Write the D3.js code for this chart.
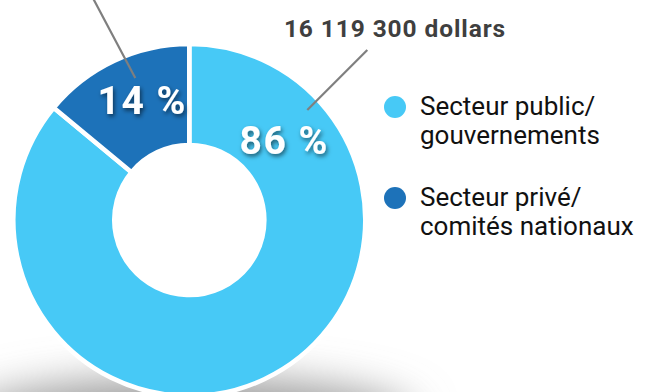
<!DOCTYPE html>
<html>
<head>
<meta charset="utf-8">
<script src="https://cdn.jsdelivr.net/npm/d3@7"></script>
<style>
  html, body { margin: 0; padding: 0; background: #fff; }
  svg { display: block; }
</style>
</head>
<body>
<script>
// Funding sources, in percent of the total
const categories = ["Secteur public/\ngouvernements", "Secteur privé/\ncomités nationaux"];
const shares = [86, 14];
const shareLabels = ["86 %", "14 %"];
const amountLabel = "16 119 300 dollars";
const colors = ["#47C9F6", "#1D72B9"];

const W = 651, H = 392;
const cx = 189.3, cy = 220;
const outerR = 176, innerR = 75;

const svg = d3.select("body").append("svg")
  .attr("width", W).attr("height", H);

const defs = svg.append("defs");
const blur = defs.append("filter").attr("id", "floor")
  .attr("x", "-50%").attr("y", "-200%").attr("width", "200%").attr("height", "500%");
blur.append("feGaussianBlur").attr("stdDeviation", 22);

const txtShadow = defs.append("filter").attr("id", "txtShadow")
  .attr("x", "-20%").attr("y", "-30%").attr("width", "140%").attr("height", "170%");
txtShadow.append("feDropShadow")
  .attr("dx", 1.5).attr("dy", 2.5).attr("stdDeviation", 2)
  .attr("flood-color", "#000").attr("flood-opacity", 0.55);

// soft floor shadow under the ring
svg.append("ellipse")
  .attr("cx", cx).attr("cy", 420)
  .attr("rx", 225).attr("ry", 40)
  .attr("fill", "#959595")
  .attr("filter", "url(#floor)");

const pie = d3.pie().sort(null).value(d => d);
const arcs = pie(shares);
const arc = d3.arc().innerRadius(innerR).outerRadius(outerR);

const g = svg.append("g").attr("transform", `translate(${cx},${cy})`);

g.selectAll("path.slice")
  .data(arcs)
  .join("path")
  .attr("class", "slice")
  .attr("d", arc)
  .attr("fill", (d, i) => colors[i])
  .attr("stroke", "#fff")
  .attr("stroke-width", 4.6)
  .attr("stroke-linejoin", "miter");

// label anchors, polar (degrees clockwise from 12 o'clock, radius)
const labelPolar = [[49.9, 124], [-21.4, 129]];
const polar = (a, r) => [r * Math.sin(a * Math.PI / 180), -r * Math.cos(a * Math.PI / 180)];

// leader lines (start on the ring, end outside)
const leaders = [
  [[118, -110], [178, -170]],
  [[-54, -142], [-98, -225]]
];
g.selectAll("line.leader")
  .data(leaders)
  .join("line")
  .attr("class", "leader")
  .attr("x1", d => d[0][0]).attr("y1", d => d[0][1])
  .attr("x2", d => d[1][0]).attr("y2", d => d[1][1])
  .attr("stroke", "#7f7f7f")
  .attr("stroke-width", 2.2);

g.selectAll("text.pct")
  .data(arcs)
  .join("text")
  .attr("class", "pct")
  .attr("x", (d, i) => polar(...labelPolar[i])[0])
  .attr("y", (d, i) => polar(...labelPolar[i])[1])
  .attr("dy", "0.36em")
  .attr("text-anchor", "middle")
  .attr("font-family", "Roboto, sans-serif")
  .attr("font-weight", 700)
  .attr("font-size", 39)
  .attr("letter-spacing", 1.5)
  .attr("fill", "#fff")
  .attr("filter", "url(#txtShadow)")
  .text((d, i) => shareLabels[i]);

svg.append("text")
  .attr("x", 395).attr("y", 37)
  .attr("text-anchor", "middle")
  .attr("font-family", "Roboto, sans-serif")
  .attr("font-weight", 700)
  .attr("font-size", 24.5)
  .attr("letter-spacing", 0.9)
  .attr("fill", "#3f3f3f")
  .text(amountLabel);

// legend
const legend = svg.append("g").attr("transform", "translate(395,107)");
const item = legend.selectAll("g.item")
  .data(categories)
  .join("g")
  .attr("class", "item")
  .attr("transform", (d, i) => `translate(0,${i * 91})`);

item.append("circle")
  .attr("r", 11)
  .attr("fill", (d, i) => colors[i]);

item.append("text")
  .attr("x", 25)
  .attr("y", 8)
  .attr("font-family", "Roboto, sans-serif")
  .attr("font-size", 26)
  .attr("fill", "#111")
  .selectAll("tspan")
  .data(d => d.split("\n"))
  .join("tspan")
  .attr("x", 25)
  .attr("dy", (d, i) => i === 0 ? 0 : 28.5)
  .text(d => d);
</script>
</body>
</html>
